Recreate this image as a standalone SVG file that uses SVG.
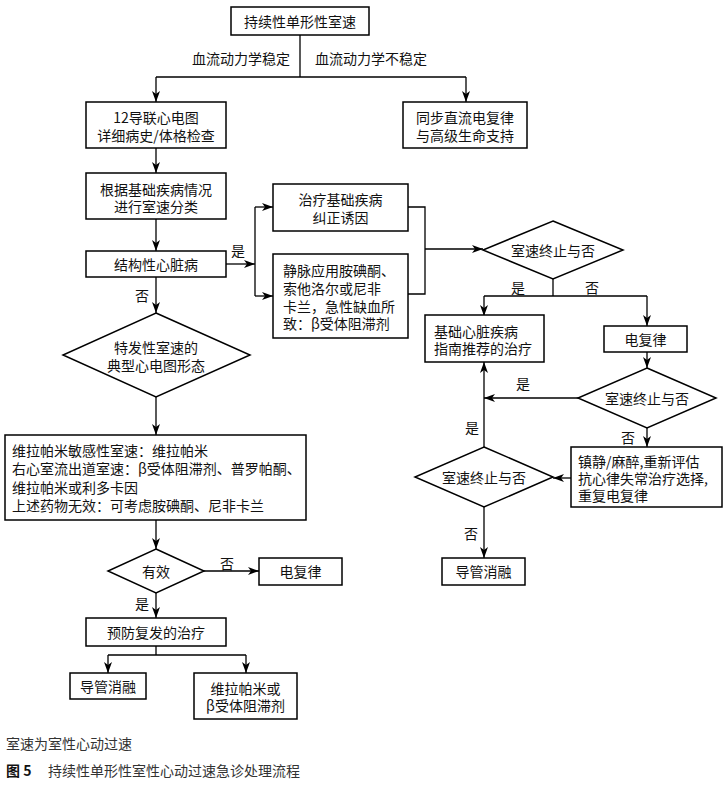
<svg xmlns="http://www.w3.org/2000/svg" width="727" height="785" viewBox="0 0 727 785">
<defs>
<marker id="ah" markerUnits="userSpaceOnUse" markerWidth="12" markerHeight="10" refX="11" refY="4.5" orient="auto">
<path d="M0,0.5 L11,4.5 L0,8.5 L3,4.5 Z" fill="#000"/>
</marker>
<style>
.box{fill:#fff;stroke:#000;stroke-width:1.5}
.c{fill:none;stroke:#000;stroke-width:1.3}
.a{marker-end:url(#ah)}
text{font-family:"Noto Sans CJK SC","Liberation Sans",sans-serif;font-size:14px;fill:#111;dominant-baseline:central}
.m{text-anchor:middle}
.cap{fill:#333}
</style>
</defs>
<rect width="727" height="785" fill="#fff"/>
<g id="connectors">
<path class="c" d="M300,35 V77"/>
<path class="c" d="M156,77 H466"/>
<path class="c a" d="M156,77 V102"/>
<path class="c a" d="M466,77 V102"/>
<path class="c a" d="M156,148 V173"/>
<path class="c a" d="M156,219 V251"/>
<path class="c a" d="M226,264 H255"/>
<path class="c" d="M255,207 V296"/>
<path class="c a" d="M255,207 H273"/>
<path class="c a" d="M255,296 H273"/>
<path class="c" d="M408,207 H425 V294 H408"/>
<path class="c a" d="M425,249 H483"/>
<path class="c" d="M553,279 V296"/>
<path class="c" d="M484,296 H647"/>
<path class="c a" d="M484,296 V316"/>
<path class="c a" d="M647,296 V326"/>
<path class="c a" d="M647,352 V368"/>
<path class="c a" d="M578,398 H484"/>
<path class="c a" d="M647,428 V447"/>
<path class="c a" d="M571,478 H553"/>
<path class="c a" d="M484,447 V362"/>
<path class="c a" d="M484,507 V558"/>
<path class="c a" d="M156,277 V313"/>
<path class="c a" d="M156,397 V435"/>
<path class="c a" d="M156,520 V549"/>
<path class="c a" d="M204,571 H259"/>
<path class="c a" d="M156,593 V618"/>
<path class="c" d="M156,646 V655"/>
<path class="c" d="M108,655 H246"/>
<path class="c a" d="M108,655 V673"/>
<path class="c a" d="M246,655 V673"/>
<text x="290" y="58" text-anchor="end">血流动力学稳定</text>
<text x="315" y="58">血流动力学不稳定</text>
<text x="238" y="250" class="m">是</text>
<text x="142" y="295" class="m">否</text>
<text x="518" y="287" class="m">是</text>
<text x="592" y="287" class="m">否</text>
<text x="523" y="383" class="m">是</text>
<text x="628" y="437" class="m">否</text>
<text x="472" y="427" class="m">是</text>
<text x="471" y="533" class="m">否</text>
<text x="227" y="563" class="m">否</text>
<text x="142" y="603" class="m">是</text>
</g>
<g id="n_start">
<rect class="box" x="231" y="7" width="138" height="28"/>
<text x="300" y="21" class="m">持续性单形性室速</text>
</g>
<g id="n_ecg">
<rect class="box" x="86" y="102" width="140" height="46"/>
<text x="156" y="117" class="m">12导联心电图</text>
<text x="156" y="135" class="m">详细病史/体格检查</text>
</g>
<g id="n_dc">
<rect class="box" x="403" y="102" width="124" height="46"/>
<text x="465" y="117" class="m">同步直流电复律</text>
<text x="465" y="135" class="m">与高级生命支持</text>
</g>
<g id="n_classify">
<rect class="box" x="86" y="173" width="140" height="46"/>
<text x="156" y="189" class="m">根据基础疾病情况</text>
<text x="156" y="206" class="m">进行室速分类</text>
</g>
<g id="n_structural">
<rect class="box" x="86" y="251" width="140" height="26"/>
<text x="156" y="264" class="m">结构性心脏病</text>
</g>
<g id="n_treat_base">
<rect class="box" x="273" y="184" width="135" height="47"/>
<text x="340.5" y="199" class="m">治疗基础疾病</text>
<text x="340.5" y="217" class="m">纠正诱因</text>
</g>
<g id="n_iv">
<rect class="box" x="273" y="254" width="135" height="84"/>
<text x="283" y="270">静脉应用胺碘酮、</text>
<text x="283" y="288">索他洛尔或尼非</text>
<text x="283" y="306">卡兰，急性缺血所</text>
<text x="283" y="323">致：β受体阻滞剂</text>
</g>
<g id="n_term1">
<polygon class="box" points="553,221 623,250 553,279 483,250"/>
<text x="553" y="250" class="m">室速终止与否</text>
</g>
<g id="n_guideline">
<rect class="box" x="425" y="315" width="119" height="47"/>
<text x="434" y="331">基础心脏疾病</text>
<text x="434" y="348">指南推荐的治疗</text>
</g>
<g id="n_cardio1">
<rect class="box" x="604" y="326" width="83" height="26"/>
<text x="645.5" y="339" class="m">电复律</text>
</g>
<g id="n_term2">
<polygon class="box" points="647,368 716,398 647,428 578,398"/>
<text x="647" y="398" class="m">室速终止与否</text>
</g>
<g id="n_sedation">
<rect class="box" x="571" y="447" width="151" height="60"/>
<text x="578" y="461">镇静/麻醉,重新评估</text>
<text x="578" y="478">抗心律失常治疗选择,</text>
<text x="578" y="495">重复电复律</text>
</g>
<g id="n_term3">
<polygon class="box" points="484,447 553,477 484,507 415,477"/>
<text x="484" y="477" class="m">室速终止与否</text>
</g>
<g id="n_ablation1">
<rect class="box" x="442" y="558" width="83" height="27"/>
<text x="483.5" y="571" class="m">导管消融</text>
</g>
<g id="n_idiopathic">
<polygon class="box" points="156,313 250,355 156,397 63,355"/>
<text x="156" y="347" class="m">特发性室速的</text>
<text x="156" y="365" class="m">典型心电图形态</text>
</g>
<g id="n_drugs">
<rect class="box" x="5" y="435" width="301" height="85"/>
<text x="12" y="450">维拉帕米敏感性室速：维拉帕米</text>
<text x="12" y="468">右心室流出道室速：β受体阻滞剂、普罗帕酮、</text>
<text x="12" y="487">维拉帕米或利多卡因</text>
<text x="12" y="505">上述药物无效：可考虑胺碘酮、尼非卡兰</text>
</g>
<g id="n_effective">
<polygon class="box" points="156,549 204,571 156,593 108,571"/>
<text x="156" y="571" class="m">有效</text>
</g>
<g id="n_cardio2">
<rect class="box" x="259" y="558" width="83" height="27"/>
<text x="300.5" y="571" class="m">电复律</text>
</g>
<g id="n_prevent">
<rect class="box" x="86" y="618" width="140" height="28"/>
<text x="156" y="632" class="m">预防复发的治疗</text>
</g>
<g id="n_ablation2">
<rect class="box" x="70" y="673" width="76" height="26"/>
<text x="108" y="686" class="m">导管消融</text>
</g>
<g id="n_verapamil">
<rect class="box" x="194" y="673" width="103" height="46"/>
<text x="245.5" y="688" class="m">维拉帕米或</text>
<text x="245.5" y="705" class="m">β受体阻滞剂</text>
</g>
<g id="caption">
<text x="6" y="743" class="cap">室速为室性心动过速</text>
<text x="6" y="770" style="font-weight:bold">图 5</text>
<text x="48" y="770" class="cap">持续性单形性室性心动过速急诊处理流程</text>
</g>
</svg>
